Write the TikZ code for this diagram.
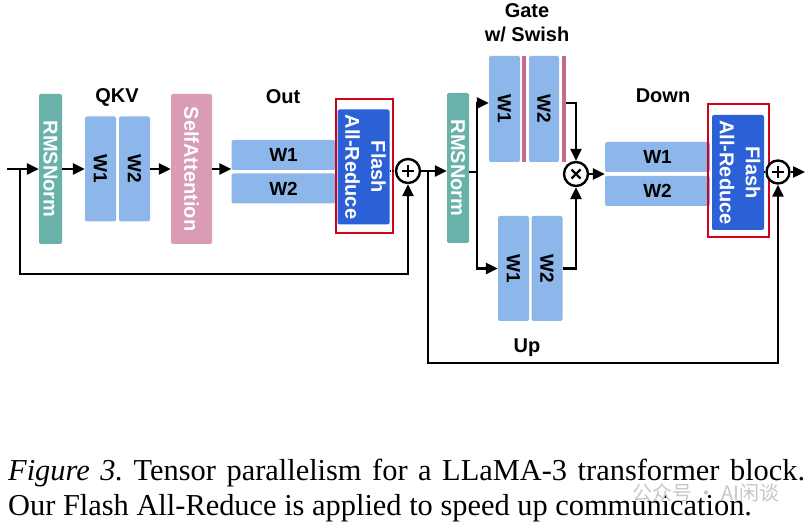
\documentclass[tikz,border=0pt]{standalone}
\usepackage{fontspec}
\setmainfont{Liberation Serif}
\setsansfont{Liberation Sans}
\newfontfamily\cjkfont{Noto Sans CJK SC}
\usetikzlibrary{arrows.meta}
\frenchspacing

\definecolor{normteal}{HTML}{68B2AA}
\definecolor{wblue}{HTML}{8DB6EA}
\definecolor{attnpink}{HTML}{DA9BB7}
\definecolor{flashblue}{HTML}{2B60D6}
\definecolor{boxred}{HTML}{D0021B}
\definecolor{swishpink}{HTML}{C46B8C}

\newcommand{\vlabel}[1]{\rotatebox{-90}{#1}}
\newcommand{\labfont}{\sffamily\bfseries\fontsize{20}{26}\selectfont}
\newcommand{\wfont}{\sffamily\bfseries\fontsize{19}{22}\selectfont}
\newcommand{\capfont}{\fontsize{30.4}{36}\selectfont}

\begin{document}
\begin{tikzpicture}[
	x = 1pt, y = -1pt,
	box/.style = {rectangle, rounded corners = 2pt, inner sep = 0pt, font = \labfont},
	norm/.style = {box, fill = normteal, text = white, minimum width = 23pt, minimum height = 150pt},
	attn/.style = {box, fill = attnpink, text = white, minimum width = 41pt, minimum height = 150pt},
	wcol/.style = {box, fill = wblue, font = \wfont, minimum width = 31pt, minimum height = 105pt},
	wrow/.style = {box, fill = wblue, font = \wfont, minimum width = 104pt, minimum height = 30pt},
	flash/.style = {box, fill = flashblue, text = white, minimum height = 115pt},
	redframe/.style = {draw = boxred, line width = 1.8pt, inner sep = 0pt},
	stripe/.style = {fill = swishpink, inner sep = 0pt, minimum width = 4pt, minimum height = 106pt},
	op/.style = {circle, draw, fill = white, line width = 2.4pt, minimum size = 24pt, inner sep = 0pt},
	plus/.style = {op, path picture = {
		\draw[line width = 2.4pt] ([xshift = -6pt]path picture bounding box.center) -- ([xshift = 6pt]path picture bounding box.center)
			([yshift = -6pt]path picture bounding box.center) -- ([yshift = 6pt]path picture bounding box.center);}},
	times/.style = {op, path picture = {
		\draw[line width = 2.4pt] ([shift = {(-4.5pt,-4.5pt)}]path picture bounding box.center) -- ([shift = {(4.5pt,4.5pt)}]path picture bounding box.center)
			([shift = {(-4.5pt,4.5pt)}]path picture bounding box.center) -- ([shift = {(4.5pt,-4.5pt)}]path picture bounding box.center);}},
	head/.style = {font = \labfont, inner sep = 0pt, align = center},
	wire/.style = {line width = 2.4pt},
	arr/.style = {wire, -{Triangle[length = 12pt, width = 11pt]}},
	dotline/.style = {line width = 1.4pt, densely dotted}
	]
	\useasboundingbox (0,0) rectangle (812,529);

	\node[norm] (rmsA) at (50.5,169) {\vlabel{RMSNorm}};
	\node[wcol] (qkvA) at (100.5,169) {\vlabel{W1}};
	\node[wcol] (qkvB) at (134.5,169) {\vlabel{W2}};
	\node[attn] (attn) at (191.5,169) {\vlabel{SelfAttention}};
	\node[wrow] (outA) at (283.5,155) {W1};
	\node[wrow] (outB) at (283.5,188.5) {W2};
	\node[flash, minimum width = 47pt] (arA) at (363.5,167) {\vlabel{\begin{tabular}{@{}c@{}}Flash\\All-Reduce\end{tabular}}};
	\node[redframe, minimum width = 57pt, minimum height = 134pt] (redA) at (364.5,166) {};
	\node[plus] (plusA) at (408,171) {};

	\node[norm, minimum width = 22pt] (rmsB) at (458,168) {\vlabel{RMSNorm}};
	\node[wcol, minimum height = 106pt] (gateA) at (504.5,109) {\vlabel{W1}};
	\node[stripe] (stripeA) at (524,109) {};
	\node[wcol, minimum width = 30pt, minimum height = 106pt] (gateB) at (544,109) {\vlabel{W2}};
	\node[stripe] (stripeB) at (564,109) {};
	\node[wcol] (upA) at (513.5,268.5) {\vlabel{W1}};
	\node[wcol] (upB) at (547,268.5) {\vlabel{W2}};
	\node[times] (mul) at (576,174) {};
	\node[wrow, minimum width = 105pt] (downA) at (657.5,157) {W1};
	\node[wrow, minimum width = 105pt] (downB) at (657.5,191) {W2};
	\node[flash, minimum width = 48pt] (arB) at (738,172.5) {\vlabel{\begin{tabular}{@{}c@{}}Flash\\All-Reduce\end{tabular}}};
	\node[redframe, minimum width = 61pt, minimum height = 133pt] (redB) at (738.5,170.5) {};
	\node[plus, minimum size = 23pt] (plusB) at (778,172) {};

	\node[head] (qkvLabel) at (117,97) {QKV};
	\node[head] (outLabel) at (283,97) {Out};
	\node[head, font = \sffamily\bfseries\fontsize{20}{24}\selectfont] (gateLabel) at (527,23) {Gate\\w/ Swish};
	\node[head] (upLabel) at (527,348) {Up};
	\node[head] (downLabel) at (663,96) {Down};

	\coordinate (inA) at (7,169);
	\coordinate (tapA) at (20,169);
	\coordinate (tapB) at (428,171);
	\coordinate (fork) at (477,172);
	\coordinate (outEnd) at (805,172);

	\draw[arr] (inA) -- (rmsA);
	\draw[arr] (rmsA) -- (qkvA);
	\draw[arr] (qkvB) -- (attn);
	\draw[arr] (attn) -- (attn -| outA.west);
	\draw[dotline] (arA.east |- plusA) -- (plusA);
	\draw[arr] (tapA) -- ++(0,105) -| (plusA);
	\draw[arr] (plusA) -- (plusA -| rmsB.west);
	\draw[wire] (fork -| rmsB.east) -- (fork);
	\draw[arr] (fork) |- ([yshift = 6pt]gateA.west);
	\draw[arr] (fork) |- (upA);
	\draw[arr] ([yshift = 6pt]stripeB.east) -| (mul);
	\draw[arr] (upB) -| (mul);
	\draw[arr] (mul) -- (mul -| downA.west);
	\draw[dotline] (arB.east |- plusB) -- (plusB);
	\draw[arr] (tapB) -- ++(0,192) -| (plusB);
	\draw[arr] (plusB) -- (outEnd);

	\node[anchor = base west, inner sep = 0pt, font = \capfont] (capA) at (8,480)
		{\makebox[797pt][s]{\textit{Figure 3.} Tensor parallelism for a LLaMA-3 transformer block.}};
	\node[anchor = base west, inner sep = 0pt, font = \capfont] (capB) at (8,515)
		{Our Flash All-Reduce is applied to speed up communication.};
	\node[anchor = west, inner sep = 0pt, text = black!22, font = \cjkfont\fontsize{20}{20}\selectfont] (mark) at (632,493) {公众号 · AI闲谈};
\end{tikzpicture}
\end{document}
